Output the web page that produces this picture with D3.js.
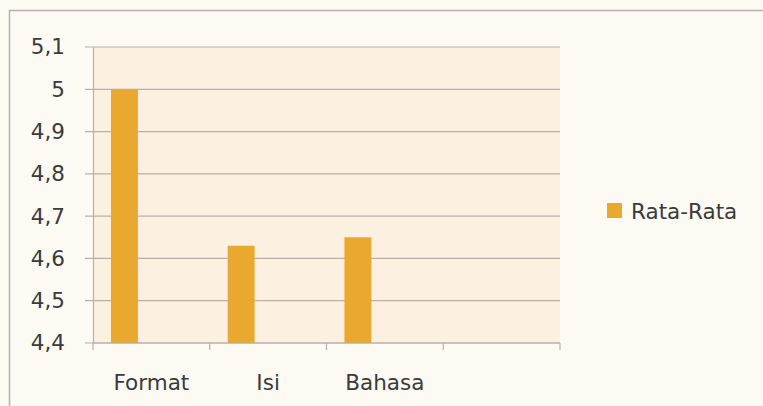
<!DOCTYPE html>
<html>
<head>
<meta charset="utf-8">
<script src="https://cdn.jsdelivr.net/npm/d3@7"></script>
<style>
  body { margin: 0; background: #fdfaf4; }
  text { font-family: "DejaVu Sans", sans-serif; fill: #3a3a3a; }
</style>
</head>
<body>
<div id="chart"></div>
<script>
// data
const categories = ["Format", "Isi", "Bahasa", ""];
const seriesName = "Rata-Rata";
const rataRata = [5.0, 4.63, 4.65];
const yTicks = [4.4, 4.5, 4.6, 4.7, 4.8, 4.9, 5.0, 5.1];

const svgWidth = 763, svgHeight = 406;
const margin = {top: 47, left: 93, right: 203, bottom: 63};
const width = svgWidth - margin.left - margin.right;
const height = svgHeight - margin.top - margin.bottom;
const fontSize = "21.5px";

const svg = d3.select("#chart").append("svg")
  .attr("width", svgWidth)
  .attr("height", svgHeight);

// outer chart area (only top and left edge show in the photo)
svg.append("rect")
  .attr("x", 0).attr("y", 0)
  .attr("width", svgWidth).attr("height", svgHeight)
  .style("fill", "#fdfaf4");
svg.append("path")
  .attr("d", "M9.5," + svgHeight + "V10.5H" + svgWidth)
  .style("fill", "none")
  .style("stroke", "#b9aeab")
  .style("stroke-width", 1.5);

const plot = svg.append("g")
  .attr("transform", "translate(" + margin.left + "," + margin.top + ")");

plot.append("rect")
  .attr("width", width).attr("height", height)
  .style("fill", "#fcf0e1");

// scales
const x = d3.scaleBand().domain(categories).range([0, width]);
// second slot in each group is empty, as in the original sheet
const xSub = d3.scaleBand().domain([seriesName, "_"]).range([0, x.bandwidth()])
  .paddingInner(0.5).paddingOuter(1 / 3);
const y = d3.scaleLinear().domain([4.4, 5.1]).range([height, 0]);

// gridlines
plot.append("g")
  .selectAll("line")
  .data(yTicks)
  .join("line")
    .attr("x1", -8).attr("x2", width)
    .attr("y1", d => y(d)).attr("y2", d => y(d))
    .style("stroke", "#b8b0a8")
    .style("stroke-width", 1.2);

// bars
plot.append("g")
  .selectAll("rect")
  .data(rataRata)
  .join("rect")
    .attr("x", (d, i) => x(categories[i]) + xSub(seriesName))
    .attr("width", xSub.bandwidth())
    .attr("y", d => y(d))
    .attr("height", d => height - y(d))
    .style("fill", "#e9a82e");

// y axis
const yAxis = d3.axisLeft(y).tickValues(yTicks).tickSize(0).tickPadding(28)
  .tickFormat(d => d3.format(".1~f")(d).replace(".", ","));
const gy = plot.append("g").call(yAxis);
gy.select(".domain").style("stroke", "#b8b0a8").style("stroke-width", 1.2);
gy.selectAll("text")
  .style("font-family", "'DejaVu Sans', sans-serif")
  .style("font-size", fontSize).style("fill", "#3a3a3a");

// x axis
const gx = plot.append("g")
  .attr("transform", "translate(0," + height + ")");
gx.append("line")
  .attr("x1", 0).attr("x2", width)
  .style("stroke", "#b8b0a8").style("stroke-width", 1.2);
gx.selectAll(".tick")
  .data(categories.map(c => x(c)).concat([width]))
  .join("line")
    .attr("class", "tick")
    .attr("x1", d => d).attr("x2", d => d)
    .attr("y1", 0).attr("y2", 7)
    .style("stroke", "#b8b0a8").style("stroke-width", 1.2);
gx.selectAll(".label")
  .data(categories)
  .join("text")
    .attr("class", "label")
    .attr("x", d => x(d) + x.bandwidth() / 2)
    .attr("y", 47)
    .attr("text-anchor", "middle")
    .style("font-size", fontSize)
    .text(d => d);

// legend
const legend = svg.append("g")
  .attr("transform", "translate(607,203)");
legend.append("rect")
  .attr("width", 15).attr("height", 15)
  .style("fill", "#e9a82e");
legend.append("text")
  .attr("x", 24).attr("y", 8)
  .attr("dy", "0.35em")
  .style("font-size", fontSize)
  .text(seriesName);
</script>
</body>
</html>
